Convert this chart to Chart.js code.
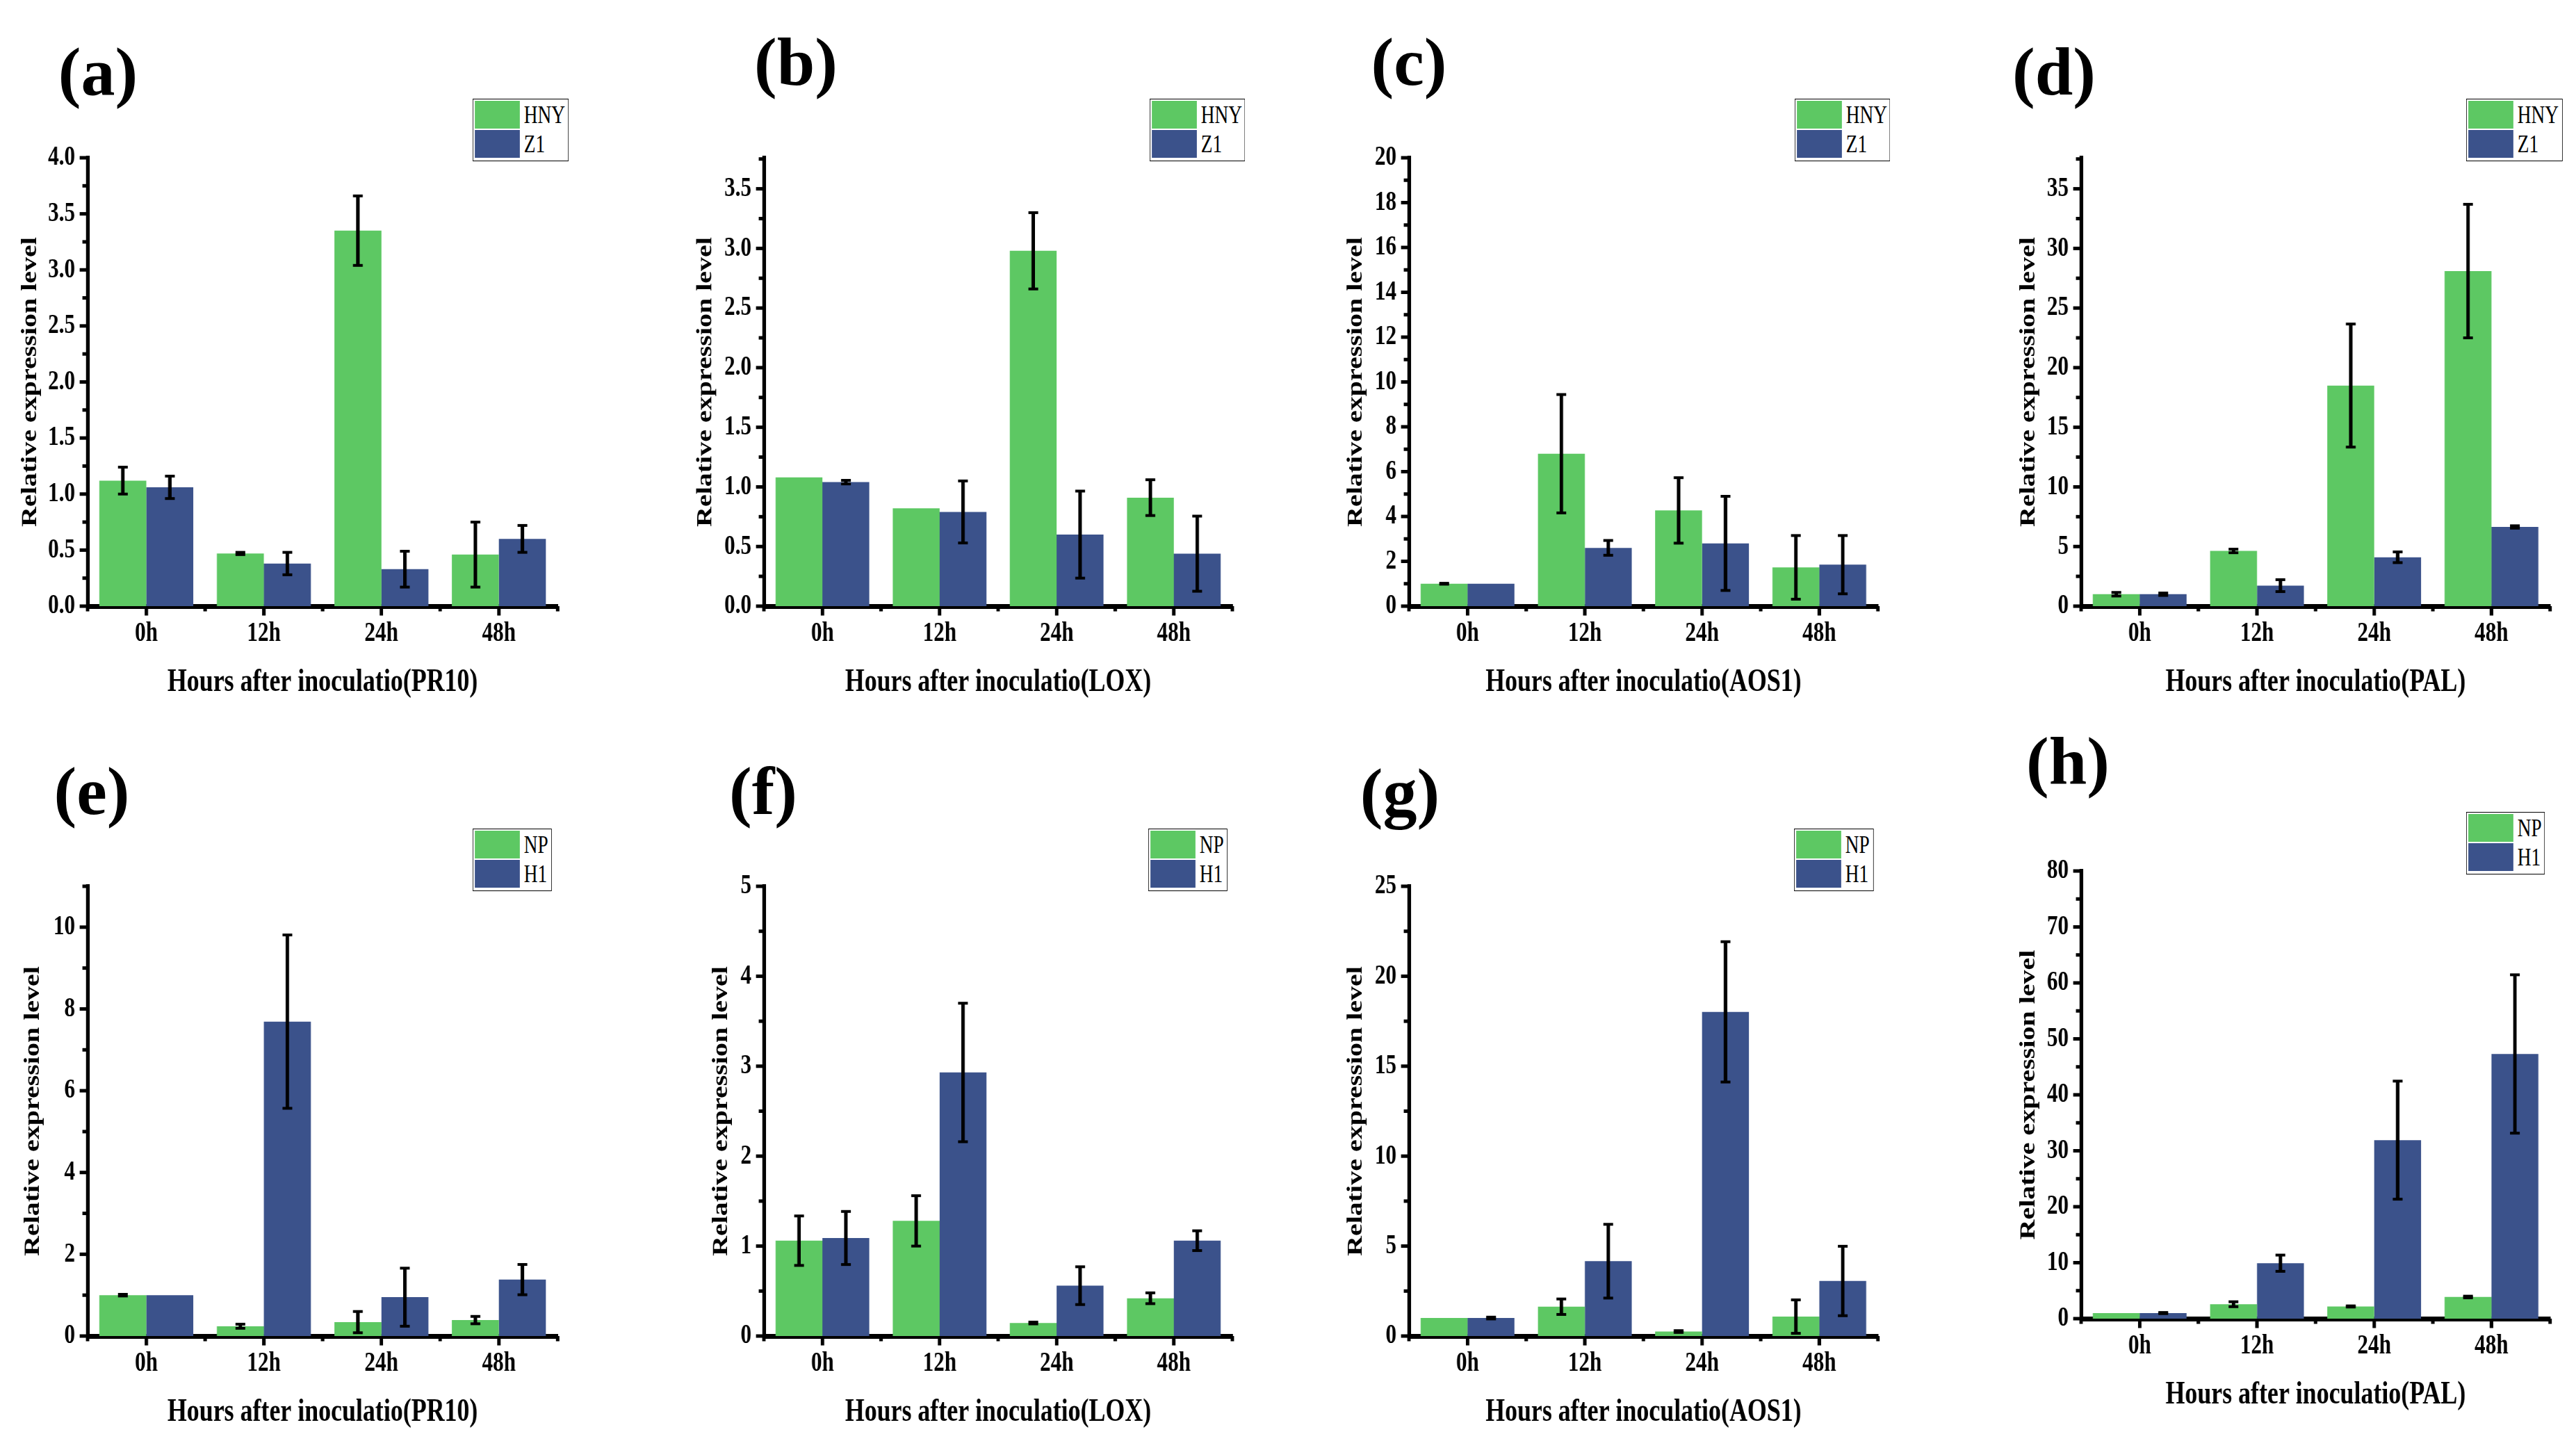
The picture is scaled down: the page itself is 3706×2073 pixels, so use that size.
<!DOCTYPE html>
<html>
<head>
<meta charset="utf-8">
<script src="https://cdn.jsdelivr.net/npm/chart.js@4.4.0/dist/chart.umd.min.js"></script>
<style>
html, body { margin: 0; padding: 0; background: #fff; }
body { width: 3706px; height: 2073px; position: relative; overflow: hidden; font-family: "Liberation Serif", "Times New Roman", serif; }
.panel { position: absolute; transform-origin: 0 0; }
.plabel { position: absolute; font-weight: bold; font-size: 98px; line-height: 1; transform: translate(-50%, -50%); white-space: nowrap; }
.legend { position: absolute; border: 1.5px solid #000; box-sizing: border-box; padding: 2px 0 0 2.5px; transform-origin: 0 0; background: #fff; }
.legend .row { display: flex; align-items: center; height: 40px; margin-bottom: 2px; }
.legend .sw { display: inline-block; width: 83px; height: 40px; }
.legend .tx { font-size: 35px; line-height: 1; margin-left: 8px; }
</style>
</head>
<body>
<script>
const categories = ["0h", "12h", "24h", "48h"];
const groupsTop = ["HNY", "Z1"];
const groupsBottom = ["NP", "H1"];
const genes = ["PR10", "LOX", "AOS1", "PAL"];
const panelLabels = ["(a)", "(b)", "(c)", "(d)", "(e)", "(f)", "(g)", "(h)"];

// (a)-(d): HNY vs Z1, mean and error
const pr10HNY = [1.12, 0.47, 3.35, 0.46];
const pr10HNYsd = [0.12, 0.01, 0.31, 0.29];
const pr10Z1 = [1.06, 0.38, 0.33, 0.60];
const pr10Z1sd = [0.10, 0.10, 0.16, 0.12];

const loxHNY = [1.08, 0.82, 2.98, 0.91];
const loxHNYsd = [0, 0, 0.32, 0.15];
const loxZ1 = [1.04, 0.79, 0.60, 0.44];
const loxZ1sd = [0.015, 0.26, 0.365, 0.315];

const aos1HNY = [1.0, 6.8, 4.27, 1.73];
const aos1HNYsd = [0.02, 2.64, 1.46, 1.42];
const aos1Z1 = [1.0, 2.6, 2.8, 1.85];
const aos1Z1sd = [0, 0.33, 2.1, 1.3];

const palHNY = [1.0, 4.63, 18.5, 28.1];
const palHNYsd = [0.15, 0.15, 5.16, 5.6];
const palZ1 = [1.0, 1.72, 4.1, 6.64];
const palZ1sd = [0.1, 0.5, 0.45, 0.1];

// (e)-(h): NP vs H1
const pr10NP = [1.0, 0.24, 0.34, 0.39];
const pr10NPsd = [0.02, 0.05, 0.26, 0.09];
const pr10H1 = [1.0, 7.69, 0.95, 1.38];
const pr10H1sd = [0, 2.12, 0.71, 0.37];

const loxNP = [1.06, 1.28, 0.145, 0.42];
const loxNPsd = [0.275, 0.28, 0.01, 0.06];
const loxH1 = [1.09, 2.93, 0.56, 1.06];
const loxH1sd = [0.295, 0.77, 0.21, 0.11];

const aos1NP = [1.0, 1.63, 0.25, 1.08];
const aos1NPsd = [0, 0.43, 0.05, 0.93];
const aos1H1 = [1.0, 4.16, 18.02, 3.06];
const aos1H1sd = [0.05, 2.05, 3.9, 1.93];

const palNP = [1.0, 2.58, 2.18, 3.87];
const palNPsd = [0, 0.44, 0.1, 0.15];
const palH1 = [1.0, 9.91, 31.9, 47.3];
const palH1sd = [0.1, 1.45, 10.55, 14.15];

// y axes
const yMax = [4, 3.76, 20, 37.6, 11, 5, 25, 80];
const yStep = [0.5, 0.5, 2, 5, 2, 1, 5, 10];
const yDecimals = [1, 1, 0, 0, 0, 0, 0, 0];

const panelSeries = [
    [pr10HNY, pr10Z1], [loxHNY, loxZ1], [aos1HNY, aos1Z1], [palHNY, palZ1],
    [pr10NP, pr10H1], [loxNP, loxH1], [aos1NP, aos1H1], [palNP, palH1]
];
const panelErrors = [
    [pr10HNYsd, pr10Z1sd], [loxHNYsd, loxZ1sd], [aos1HNYsd, aos1Z1sd], [palHNYsd, palZ1sd],
    [pr10NPsd, pr10H1sd], [loxNPsd, loxH1sd], [aos1NPsd, aos1H1sd], [palNPsd, palH1sd]
];

const GREEN = "#5DC863";
const BLUE = "#3B528B";
const FONT = "Liberation Serif";

// page layout (visual pixels): axis x, axis end, plot top/bottom, y title gap, label centre, legend box
const layout = [
    { ax: 126, xe: 802, top: 210, bot: 872, gap: 82, lx: 141, ly: 103, gx: 680, gy: 142, gw: 138 },
    { ax: 1099, xe: 1773, top: 210, bot: 872, gap: 84, lx: 1145, ly: 89, gx: 1654, gy: 142, gw: 137 },
    { ax: 2027, xe: 2702, top: 210, bot: 872, gap: 76, lx: 2027, ly: 89, gx: 2582, gy: 142, gw: 137 },
    { ax: 2994, xe: 3669, top: 210, bot: 872, gap: 75, lx: 2955, ly: 103, gx: 3548, gy: 142, gw: 139 },
    { ax: 126, xe: 802, top: 1258, bot: 1922, gap: 78, lx: 132, ly: 1138, gx: 680, gy: 1192, gw: 114 },
    { ax: 1099, xe: 1773, top: 1258, bot: 1922, gap: 61, lx: 1098, ly: 1138, gx: 1652, gy: 1192, gw: 114 },
    { ax: 2027, xe: 2702, top: 1258, bot: 1922, gap: 76, lx: 2014, ly: 1140, gx: 2581, gy: 1192, gw: 115 },
    { ax: 2994, xe: 3669, top: 1236, bot: 1897, gap: 75, lx: 2975, ly: 1095, gx: 3548, gy: 1168, gw: 113 }
];

const K = 0.78;   // horizontal squeeze of the original figure
const SY = 150;   // y scale box width (unsqueezed)
const SX = 150;   // x scale box height
const PT = 30;
const PR = 12;

// error bars drawn at each bar centre
const errorBars = {
    id: "errorBars",
    afterDatasetsDraw(chart) {
        const ctx = chart.ctx;
        const y = chart.scales.y;
        ctx.save();
        ctx.fillStyle = "#000";
        chart.data.datasets.forEach((ds, i) => {
            const meta = chart.getDatasetMeta(i);
            meta.data.forEach((bar, j) => {
                const sd = ds.errors[j];
                if (!sd) return;
                const yt = y.getPixelForValue(ds.data[j] + sd);
                const yb = y.getPixelForValue(ds.data[j] - sd);
                ctx.fillRect(bar.x - 3.2, yt, 6.4, yb - yt);
                ctx.fillRect(bar.x - 9, yt - 2, 18, 4);
                ctx.fillRect(bar.x - 9, yb - 2, 18, 4);
            });
        });
        ctx.restore();
    }
};

// Origin-style outward major / minor ticks
const originTicks = {
    id: "originTicks",
    afterDraw(chart) {
        const ctx = chart.ctx;
        const a = chart.chartArea;
        const x = chart.scales.x;
        const y = chart.scales.y;
        const step = chart.options.scales.y.ticks.stepSize;
        const max = chart.options.scales.y.max;
        ctx.save();
        ctx.fillStyle = "#000";
        for (let n = 0; n * step / 2 <= max + 1e-9; n++) {
            const py = y.getPixelForValue(n * step / 2);
            const len = n % 2 === 0 ? 10 : 5;
            ctx.fillRect(a.left - 4.5 - len, py - 2.5, len + 4.5, 5);
        }
        const nc = chart.data.labels.length;
        for (let j = 0; j < nc; j++) {
            const px = x.getPixelForValue(j);
            ctx.fillRect(px - 3.2, a.bottom, 6.4, 3.5 + 10);
        }
        const cw = (a.right - a.left) / nc;
        for (let j = 0; j <= nc; j++) {
            const px = a.left + j * cw;
            ctx.fillRect(px - 3.2, a.bottom, 6.4, 3.5 + 4);
        }
        ctx.restore();
    }
};

function makePanel(i) {
    const p = layout[i];
    const left = p.ax - SY * K;
    const top = p.top - PT;
    const w = Math.round(SY + (p.xe - p.ax) / K + PR);
    const h = PT + (p.bot - p.top) + SX;

    const div = document.createElement("div");
    div.className = "panel";
    div.style.left = left + "px";
    div.style.top = top + "px";
    div.style.width = w + "px";
    div.style.height = h + "px";
    div.style.transform = "scaleX(" + K + ")";
    const canvas = document.createElement("canvas");
    canvas.width = w;
    canvas.height = h;
    canvas.style.width = w + "px";
    canvas.style.height = h + "px";
    div.appendChild(canvas);
    document.body.appendChild(div);

    const names = i < 4 ? groupsTop : groupsBottom;
    const dec = yDecimals[i];

    new Chart(canvas.getContext("2d"), {
        type: "bar",
        data: {
            labels: categories,
            datasets: [
                { label: names[0], data: panelSeries[i][0], errors: panelErrors[i][0], backgroundColor: GREEN, borderWidth: 0, categoryPercentage: 0.8, barPercentage: 1.0 },
                { label: names[1], data: panelSeries[i][1], errors: panelErrors[i][1], backgroundColor: BLUE, borderWidth: 0, categoryPercentage: 0.8, barPercentage: 1.0 }
            ]
        },
        options: {
            responsive: false,
            devicePixelRatio: 1,
            animation: false,
            events: [],
            layout: { padding: { top: PT, right: PR, bottom: 0, left: 0 } },
            plugins: { legend: { display: false }, tooltip: { enabled: false } },
            scales: {
                x: {
                    z: 1,
                    offset: true,
                    grid: { display: false, drawTicks: false, drawOnChartArea: false },
                    border: { display: true, width: 7, color: "#000" },
                    ticks: { color: "#000", padding: 16, maxRotation: 0, autoSkip: false, font: { family: FONT, size: 40, weight: "bold", lineHeight: 1.2 } },
                    title: { display: true, text: "Hours after inoculatio(" + genes[i % 4] + ")", color: "#000", padding: { top: 0, bottom: SX - 27.6 - 110 }, font: { family: FONT, size: 46, weight: "bold", lineHeight: 1.2 } },
                    afterFit(s) { s.height = SX; }
                },
                y: {
                    z: 1,
                    min: 0,
                    max: yMax[i],
                    grid: { display: false, drawTicks: false, drawOnChartArea: false },
                    border: { display: true, width: 7, color: "#000" },
                    ticks: {
                        stepSize: yStep[i],
                        includeBounds: false,
                        color: "#000",
                        padding: 23,
                        font: { family: FONT, size: 40, weight: "bold", lineHeight: 1.2 },
                        callback: v => Number(v).toFixed(dec)
                    },
                    title: { display: true, text: "Relative expression level", color: "#000", padding: { top: SY - p.gap / K - 24, bottom: 0 }, font: { family: FONT, size: 40, weight: "bold", lineHeight: 1.2 } },
                    afterFit(s) { s.width = SY; }
                }
            }
        },
        plugins: [errorBars, originTicks]
    });

    const lab = document.createElement("div");
    lab.className = "plabel";
    lab.style.left = p.lx + "px";
    lab.style.top = p.ly + "px";
    lab.textContent = panelLabels[i];
    document.body.appendChild(lab);

    const lg = document.createElement("div");
    lg.className = "legend";
    lg.style.left = p.gx + "px";
    lg.style.top = p.gy + "px";
    lg.style.width = (p.gw / K) + "px";
    lg.style.height = "90px";
    lg.style.transform = "scaleX(" + K + ")";
    [GREEN, BLUE].forEach((c, k) => {
        const row = document.createElement("div");
        row.className = "row";
        const sw = document.createElement("span");
        sw.className = "sw";
        sw.style.background = c;
        const tx = document.createElement("span");
        tx.className = "tx";
        tx.textContent = names[k];
        row.appendChild(sw);
        row.appendChild(tx);
        lg.appendChild(row);
    });
    document.body.appendChild(lg);
}

for (let i = 0; i < 8; i++) makePanel(i);
</script>
</body>
</html>
